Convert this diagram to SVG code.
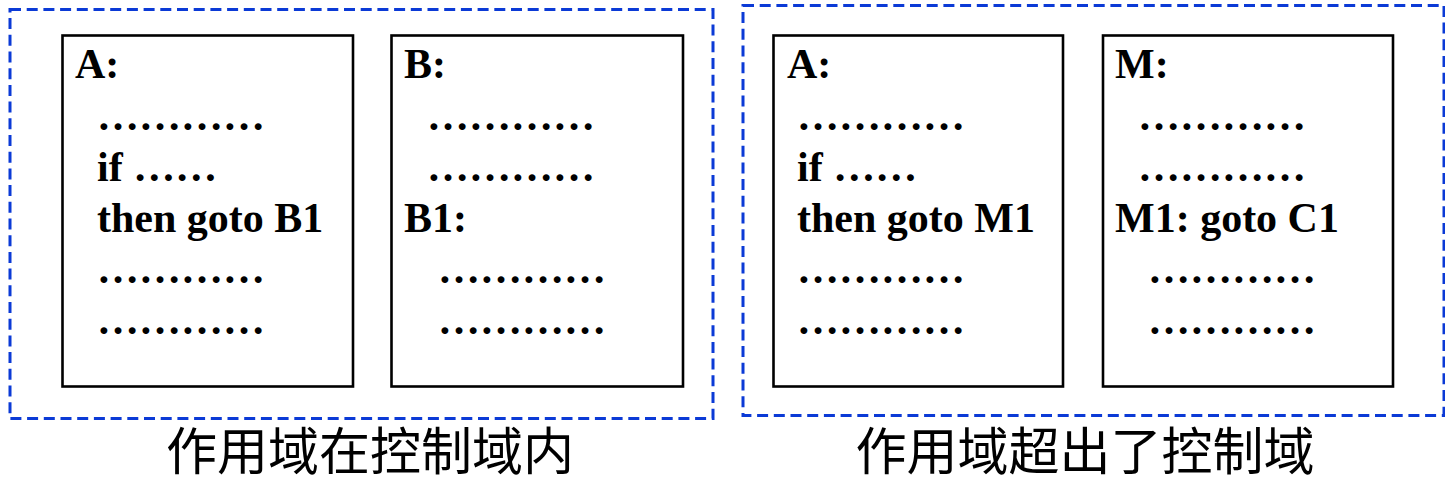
<svg xmlns="http://www.w3.org/2000/svg" width="1445" height="485" viewBox="0 0 1445 485">
<style>
.frame{fill:none;stroke:#0b3ad6;stroke-width:3;stroke-dasharray:11 5.7}
.box{fill:#fff;stroke:#000;stroke-width:2.6}
.code{font-family:"Liberation Serif","Times New Roman",serif;font-weight:bold;font-size:42px;fill:#000}
.cap{font-family:"Noto Sans CJK SC","Noto Sans CJK TC",sans-serif;font-size:51px;fill:#000;text-anchor:middle}
</style>
<rect width="1445" height="485" fill="#fff"/>
<g id="frame-left">
<rect class="frame" x="10" y="9.5" width="703" height="409"/>
<text class="cap" x="370" y="470">作用域在控制域内</text>
</g>
<g id="frame-right">
<rect class="frame" x="743" y="5.5" width="701" height="410"/>
<text class="cap" x="1085" y="470">作用域超出了控制域</text>
</g>
<g id="box-A1">
<rect class="box" x="62.5" y="35.5" width="290.5" height="351"/>
<text class="code" x="75" y="78">A:</text>
<text class="code" x="97" y="130">…………</text>
<text class="code" x="97" y="181">if ……</text>
<text class="code" x="97" y="232">then goto B1</text>
<text class="code" x="97" y="283">…………</text>
<text class="code" x="97" y="334">…………</text>
</g>
<g id="box-B">
<rect class="box" x="391.5" y="35.5" width="291.5" height="351"/>
<text class="code" x="404" y="78">B:</text>
<text class="code" x="427" y="130">…………</text>
<text class="code" x="427" y="181">…………</text>
<text class="code" x="404" y="232">B1:</text>
<text class="code" x="438" y="283">…………</text>
<text class="code" x="438" y="334">…………</text>
</g>
<g id="box-A2">
<rect class="box" x="773.5" y="35.5" width="289.5" height="351"/>
<text class="code" x="787" y="78">A:</text>
<text class="code" x="797" y="130">…………</text>
<text class="code" x="797" y="181">if ……</text>
<text class="code" x="797" y="232">then goto M1</text>
<text class="code" x="797" y="283">…………</text>
<text class="code" x="797" y="334">…………</text>
</g>
<g id="box-M">
<rect class="box" x="1103" y="35.5" width="290" height="351"/>
<text class="code" x="1115" y="78">M:</text>
<text class="code" x="1138" y="130">…………</text>
<text class="code" x="1138" y="181">…………</text>
<text class="code" x="1115" y="232">M1: goto C1</text>
<text class="code" x="1148" y="283">…………</text>
<text class="code" x="1148" y="334">…………</text>
</g>
<g id="connectors"></g>
</svg>
